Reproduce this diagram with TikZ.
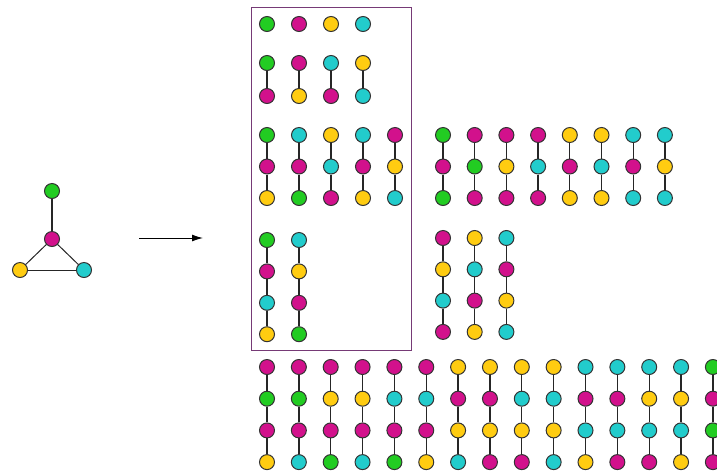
\documentclass[tikz,border=0pt]{standalone}
\usepackage{tikz}
\usetikzlibrary{arrows.meta}
\definecolor{vert}{RGB}{34,204,34}
\definecolor{magenta}{RGB}{210,17,140}
\definecolor{jaune}{RGB}{255,204,17}
\definecolor{cyan}{RGB}{34,204,204}
\definecolor{cadre}{RGB}{118,58,118}
\tikzset{btip/.tip = {Latex[length=11, width=7]}}
\tikzstyle{dot}=[circle, draw=black!80, line width=1pt, inner sep=0pt, minimum size=15pt]
\tikzstyle{gr}=[fill=vert]
\tikzstyle{mg}=[fill=magenta]
\tikzstyle{yl}=[fill=jaune]
\tikzstyle{cy}=[fill=cyan]
\tikzstyle{lien}=[draw=black!85, line width=1.3pt]
% one row of vertical chains: x0, dx, y0, dy, name, columns
\newcommand{\rangee}[6]{%
	\foreach \cols [count=\k] in {#6} {
		\foreach \c [count=\i] in \cols {
			\node[dot, \c] (#5-\k-\i) at ({#1+(\k-1)*#2}, {#3+(\i-1)*#4}) {};
			\ifnum\i>1
				\pgfmathtruncatemacro{\j}{\i-1}
				\draw[lien] (#5-\k-\j) -- (#5-\k-\i);
			\fi
		}
	}
}
\begin{document}
\begin{tikzpicture}[x=1pt, y=-1pt]
	\useasboundingbox (0,0) rectangle (717,475);
	% the graph
	\node[dot, gr] (top) at (52,191) {};
	\node[dot, mg] (mid) at (52,239) {};
	\node[dot, yl] (left) at (20,270) {};
	\node[dot, cy] (right) at (84,270) {};
	\draw[lien] (top) -- (mid);
	\draw[lien, line width=1pt] (mid) -- (left);
	\draw[lien, line width=1pt] (mid) -- (right);
	\draw[lien, line width=1pt] (left) -- (right);
	\coordinate (from) at (139,238);
	\coordinate (to) at (203,238);
	\draw[-btip, line width=1pt] (from) -- (to);
	% boxed part
	\node[draw=cadre, line width=1.3pt, minimum width=160pt, minimum height=343pt, anchor=north west] (box) at (251,7) {};
	\rangee{267}{32}{24}{0}{un}{{gr},{mg},{yl},{cy}}
	\rangee{267}{32}{63}{33}{deux}{{gr,mg},{mg,yl},{cy,mg},{yl,cy}}
	\rangee{267}{32}{135}{31.5}{trois}{{gr,mg,yl},{cy,mg,gr},{yl,cy,mg},{cy,mg,yl},{mg,yl,cy}}
	\rangee{267}{32}{240}{31.4}{quatre}{{gr,mg,cy,yl},{cy,yl,mg,gr}}
	% right part
	\rangee{443}{31.7}{135}{31.5}{troisb}{{gr,mg,gr},{mg,gr,mg},{mg,yl,mg},{mg,cy,mg},{yl,mg,yl},{yl,cy,yl},{cy,mg,cy},{cy,yl,cy}}
	\rangee{443}{31.7}{238}{31.3}{quatreb}{{mg,yl,cy,mg},{yl,cy,mg,yl},{cy,mg,yl,cy}}
	% bottom part
	\rangee{267}{31.85}{367}{31.7}{bas}{{mg,gr,mg,yl},{mg,gr,mg,cy},{mg,yl,mg,gr},{mg,yl,mg,cy},{mg,cy,mg,gr},{mg,cy,mg,yl},{yl,mg,yl,cy},{yl,mg,yl,mg},{yl,cy,yl,mg},{yl,cy,yl,cy},{cy,mg,cy,yl},{cy,mg,cy,mg},{cy,yl,cy,mg},{cy,yl,cy,yl},{gr,mg,gr,mg}}
\end{tikzpicture}
\end{document}
